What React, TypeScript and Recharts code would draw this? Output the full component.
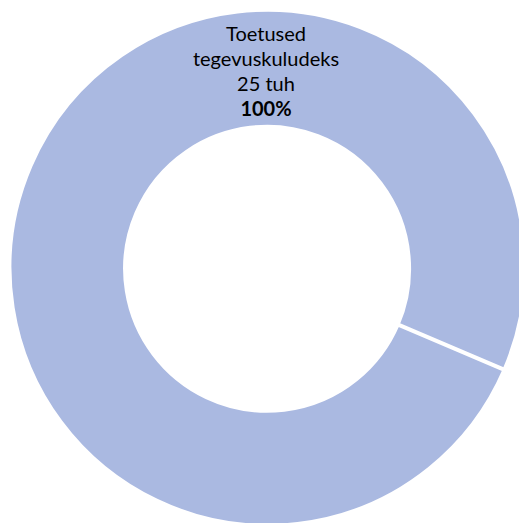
import { PieChart, Pie, Cell } from 'recharts'

const categories = ['Toetused tegevuskuludeks']
const labelLines = [['Toetused', 'tegevuskuludeks']]
const values = [25]
const unit = 'tuh'
const colors = ['#AAB9E1']

const data = categories.map((name, i) => ({ name, value: values[i] }))

const renderLabel = (props: any) => {
  const { cx, cy, innerRadius, outerRadius, index, value, percent } = props
  const x = cx - 1
  const mid = cy - (innerRadius + outerRadius) / 2
  const lines = labelLines[index]
  const lh = 25
  const top = mid - 28
  return (
    <text
      x={x}
      y={top}
      textAnchor="middle"
      fill="#000"
      style={{ fontFamily: 'Lato, "Open Sans", sans-serif', fontSize: 20 }}
    >
      {lines.map((l: string, i: number) => (
        <tspan key={i} x={x} y={top + i * lh}>{l}</tspan>
      ))}
      <tspan x={x} y={top + lines.length * lh}>{`${value} ${unit}`}</tspan>
      <tspan x={x} y={top + (lines.length + 1) * lh} fontWeight="bold">
        {`${Math.round(percent * 100)}%`}
      </tspan>
    </text>
  )
}

export default function App() {
  return (
    <div style={{ position: 'absolute', left: 0, top: 0, width: 519, height: 523, background: '#fff' }}>
      <PieChart width={519} height={523} margin={{ top: 0, right: 0, bottom: 0, left: 0 }}>
        <Pie
          data={data}
          dataKey="value"
          nameKey="name"
          cx={267}
          cy={269}
          innerRadius={142}
          outerRadius={258}
          startAngle={-23}
          endAngle={337}
          stroke="#fff"
          strokeWidth={4}
          label={renderLabel}
          labelLine={false}
          isAnimationActive={false}
        >
          {data.map((d, i) => (
            <Cell key={d.name} fill={colors[i]} />
          ))}
        </Pie>
      </PieChart>
    </div>
  )
}
